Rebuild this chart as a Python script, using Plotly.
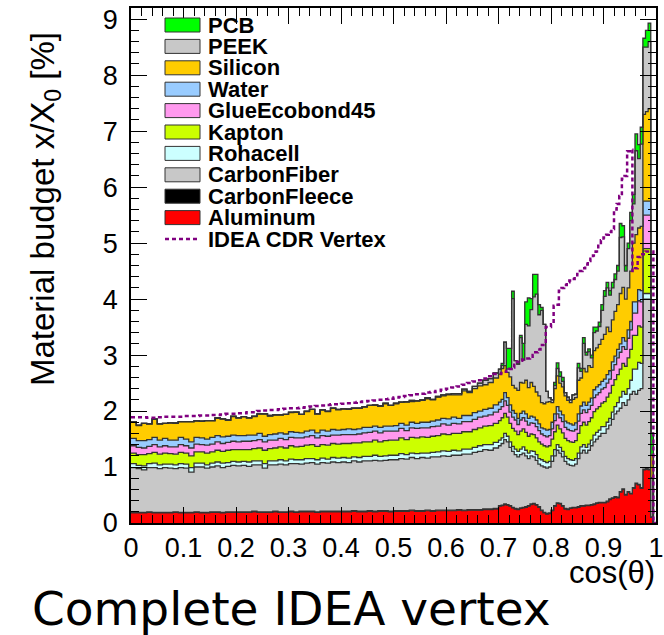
import numpy as np
import plotly.graph_objects as go

# ---------------- data ----------------
# bin edges in cos(theta): 0.01 wide up to 0.70, 0.005 wide above
bin_edges = [round(0.01 * i, 3) for i in range(71)] + [round(0.70 + 0.005 * i, 3) for i in range(1, 61)]

aluminum = [
    0.18,0.18,0.18,0.19,0.18,0.18,0.18,0.18,0.19,0.18,
    0.18,0.18,0.19,0.18,0.18,0.19,0.19,0.18,0.19,0.19,
    0.19,0.19,0.19,0.20,0.19,0.19,0.19,0.20,0.19,0.19,
    0.20,0.19,0.20,0.20,0.20,0.19,0.20,0.20,0.20,0.20,
    0.20,0.20,0.21,0.20,0.20,0.21,0.20,0.21,0.21,0.20,
    0.21,0.21,0.21,0.22,0.21,0.21,0.22,0.21,0.22,0.22,
    0.22,0.22,0.23,0.22,0.23,0.23,0.23,0.24,0.24,0.25,
    0.30,0.31,0.33,0.32,0.30,0.27,0.25,0.24,0.26,0.27,
    0.28,0.30,0.33,0.34,0.32,0.28,0.22,0.18,0.16,0.17,
    0.22,0.30,0.35,0.34,0.30,0.25,0.24,0.26,0.27,0.27,
    0.28,0.30,0.30,0.31,0.31,0.32,0.33,0.35,0.36,0.36,
    0.36,0.38,0.42,0.44,0.46,0.45,0.55,0.60,0.50,0.55,
    0.52,0.62,0.70,0.68,0.62,0.95,0.96,0.95,0.10,0.00]

carbon_fleece = [
    0.01,0.01,0.01,0.01,0.01,0.01,0.01,0.01,0.01,0.01,
    0.01,0.01,0.01,0.01,0.01,0.01,0.01,0.01,0.01,0.01,
    0.01,0.01,0.01,0.01,0.01,0.01,0.01,0.01,0.01,0.01,
    0.01,0.01,0.01,0.01,0.01,0.01,0.01,0.01,0.01,0.01,
    0.01,0.01,0.01,0.01,0.01,0.01,0.01,0.01,0.01,0.01,
    0.01,0.01,0.01,0.01,0.01,0.01,0.01,0.01,0.01,0.01,
    0.01,0.01,0.01,0.01,0.01,0.01,0.01,0.01,0.01,0.01,
    0.01,0.01,0.01,0.01,0.01,0.01,0.01,0.01,0.01,0.01,
    0.01,0.01,0.01,0.01,0.01,0.01,0.01,0.01,0.01,0.01,
    0.01,0.01,0.01,0.01,0.01,0.01,0.01,0.01,0.01,0.01,
    0.01,0.01,0.01,0.01,0.01,0.01,0.01,0.01,0.01,0.01,
    0.01,0.01,0.01,0.01,0.01,0.01,0.01,0.01,0.01,0.01,
    0.01,0.01,0.01,0.01,0.01,0.01,0.01,0.01,0.01,0.00]

carbon_fiber = [
    0.80,0.78,0.76,0.79,0.80,0.78,0.80,0.79,0.77,0.80,
    0.79,0.72,0.80,0.81,0.79,0.80,0.82,0.80,0.81,0.83,
    0.82,0.83,0.81,0.83,0.84,0.78,0.84,0.83,0.85,0.84,
    0.85,0.86,0.84,0.86,0.87,0.85,0.87,0.86,0.88,0.87,
    0.88,0.87,0.89,0.88,0.90,0.89,0.91,0.89,0.90,0.92,
    0.91,0.93,0.92,0.94,0.93,0.95,0.93,0.96,0.95,0.97,
    0.96,0.98,0.97,1.00,0.99,1.02,1.04,1.06,1.05,1.08,
    1.07,1.10,1.15,1.12,1.04,1.00,0.96,0.93,0.95,0.97,
    0.91,0.84,0.86,0.83,0.79,0.76,0.79,0.81,0.81,0.82,
    0.87,0.89,0.94,0.90,0.87,0.84,0.80,0.76,0.74,0.77,
    0.86,0.94,0.99,0.93,0.98,1.05,1.11,1.14,1.18,1.23,
    1.23,1.29,1.32,1.40,1.48,1.54,1.49,1.54,1.59,1.64,
    1.77,1.72,1.59,1.68,1.77,3.04,3.03,3.04,0.70,0.00]

rohacell = [
    0.07,0.06,0.07,0.07,0.08,0.07,0.06,0.07,0.07,0.07,
    0.07,0.08,0.07,0.07,0.06,0.07,0.07,0.08,0.07,0.07,
    0.07,0.07,0.08,0.07,0.07,0.08,0.07,0.07,0.08,0.07,
    0.08,0.07,0.08,0.08,0.07,0.08,0.08,0.07,0.08,0.08,
    0.08,0.08,0.07,0.08,0.08,0.08,0.09,0.08,0.08,0.08,
    0.08,0.09,0.08,0.08,0.09,0.08,0.09,0.08,0.09,0.09,
    0.09,0.09,0.08,0.09,0.09,0.09,0.10,0.09,0.10,0.10,
    0.10,0.10,0.11,0.10,0.10,0.09,0.10,0.10,0.10,0.11,
    0.10,0.10,0.09,0.10,0.10,0.10,0.11,0.10,0.10,0.10,
    0.10,0.11,0.10,0.10,0.10,0.09,0.10,0.10,0.10,0.10,
    0.10,0.11,0.10,0.10,0.11,0.10,0.12,0.12,0.11,0.12,
    0.12,0.12,0.12,0.13,0.13,0.15,0.20,0.20,0.20,0.20,
    0.25,0.40,0.45,0.50,0.45,0.10,0.10,0.10,0.00,0.00]

kapton = [
    0.19,0.19,0.20,0.18,0.19,0.19,0.20,0.19,0.19,0.20,
    0.20,0.21,0.20,0.20,0.21,0.20,0.21,0.21,0.22,0.21,
    0.22,0.21,0.22,0.22,0.23,0.24,0.22,0.23,0.23,0.23,
    0.24,0.23,0.24,0.24,0.25,0.24,0.24,0.25,0.25,0.25,
    0.25,0.26,0.25,0.26,0.26,0.26,0.27,0.26,0.27,0.27,
    0.27,0.28,0.27,0.28,0.28,0.29,0.28,0.29,0.29,0.30,
    0.30,0.30,0.31,0.31,0.31,0.32,0.32,0.33,0.34,0.34,
    0.35,0.36,0.36,0.34,0.33,0.32,0.32,0.30,0.32,0.32,
    0.32,0.30,0.30,0.30,0.30,0.30,0.28,0.28,0.28,0.28,
    0.30,0.32,0.35,0.33,0.33,0.32,0.32,0.32,0.32,0.32,
    0.35,0.38,0.40,0.40,0.40,0.40,0.42,0.42,0.42,0.42,
    0.45,0.45,0.45,0.48,0.48,0.50,0.50,0.50,0.50,0.55,
    0.55,0.60,0.60,0.65,0.65,0.80,0.80,0.80,0.00,0.00]

glue_ecobond45 = [
    0.13,0.13,0.12,0.13,0.14,0.13,0.13,0.12,0.13,0.14,
    0.13,0.14,0.14,0.13,0.14,0.14,0.15,0.14,0.14,0.15,
    0.14,0.15,0.15,0.14,0.15,0.15,0.15,0.14,0.15,0.15,
    0.15,0.16,0.15,0.15,0.16,0.15,0.16,0.16,0.15,0.16,
    0.16,0.16,0.15,0.16,0.16,0.17,0.16,0.16,0.17,0.16,
    0.16,0.17,0.16,0.17,0.17,0.16,0.17,0.17,0.17,0.18,
    0.17,0.18,0.17,0.18,0.18,0.18,0.19,0.18,0.19,0.20,
    0.20,0.20,0.22,0.21,0.20,0.20,0.20,0.18,0.20,0.20,
    0.20,0.20,0.20,0.20,0.20,0.20,0.18,0.18,0.18,0.18,
    0.18,0.20,0.20,0.20,0.20,0.20,0.20,0.20,0.20,0.20,
    0.22,0.22,0.22,0.22,0.22,0.22,0.25,0.25,0.25,0.25,
    0.25,0.25,0.25,0.27,0.27,0.30,0.30,0.30,0.30,0.35,
    0.35,0.40,0.40,0.45,0.45,0.60,0.60,0.60,0.00,0.00]

water = [
    0.13,0.12,0.13,0.12,0.13,0.12,0.13,0.12,0.12,0.13,
    0.12,0.11,0.12,0.12,0.11,0.12,0.11,0.12,0.11,0.11,
    0.11,0.10,0.11,0.10,0.11,0.10,0.10,0.11,0.10,0.10,
    0.10,0.10,0.09,0.10,0.10,0.09,0.10,0.09,0.10,0.09,
    0.09,0.10,0.09,0.09,0.10,0.09,0.09,0.10,0.09,0.09,
    0.10,0.09,0.10,0.10,0.09,0.10,0.10,0.10,0.11,0.10,
    0.11,0.11,0.10,0.11,0.11,0.12,0.11,0.12,0.12,0.13,
    0.13,0.13,0.15,0.14,0.13,0.12,0.12,0.11,0.12,0.12,
    0.13,0.12,0.12,0.11,0.12,0.12,0.11,0.12,0.12,0.11,
    0.12,0.12,0.13,0.12,0.12,0.11,0.12,0.12,0.11,0.12,
    0.13,0.13,0.14,0.13,0.13,0.13,0.14,0.14,0.14,0.14,
    0.15,0.15,0.15,0.15,0.15,0.15,0.15,0.16,0.15,0.15,
    0.15,0.20,0.20,0.20,0.20,0.25,0.25,0.25,0.00,0.00]

silicon = [
    0.30,0.27,0.31,0.28,0.32,0.29,0.27,0.31,0.30,0.28,
    0.31,0.36,0.29,0.30,0.33,0.30,0.31,0.32,0.29,0.33,
    0.32,0.34,0.31,0.33,0.35,0.40,0.33,0.34,0.32,0.35,
    0.34,0.36,0.33,0.35,0.37,0.34,0.36,0.35,0.38,0.36,
    0.37,0.35,0.38,0.37,0.36,0.39,0.37,0.38,0.40,0.37,
    0.39,0.38,0.41,0.37,0.40,0.39,0.42,0.38,0.41,0.40,
    0.43,0.40,0.42,0.44,0.41,0.43,0.45,0.44,0.46,0.48,
    0.50,0.55,0.48,0.45,0.50,0.45,0.45,0.50,0.55,0.50,
    0.60,0.55,0.60,0.55,0.50,0.50,0.45,0.45,0.50,0.50,
    0.35,0.45,0.55,0.50,0.50,0.45,0.40,0.38,0.46,0.45,
    0.60,0.50,0.60,0.60,0.65,0.55,0.70,0.70,0.72,0.75,
    0.80,0.85,0.70,0.75,0.80,0.80,0.90,0.90,0.75,0.75,
    0.90,1.05,1.20,1.10,1.15,1.55,1.60,1.65,0.40,0.00]

peek = [
    0.00,0.01,0.00,0.00,0.01,0.00,0.00,0.00,0.01,0.00,
    0.00,0.00,0.01,0.00,0.00,0.00,0.01,0.00,0.00,0.01,
    0.00,0.00,0.00,0.01,0.00,0.00,0.01,0.00,0.00,0.00,
    0.01,0.00,0.00,0.01,0.00,0.00,0.00,0.01,0.00,0.01,
    0.00,0.01,0.00,0.00,0.01,0.00,0.01,0.00,0.01,0.00,
    0.01,0.00,0.01,0.02,0.00,0.01,0.02,0.01,0.01,0.02,
    0.01,0.02,0.02,0.03,0.02,0.04,0.05,0.08,0.07,0.09,
    0.09,0.05,0.42,0.06,0.15,1.55,0.49,0.47,0.80,0.41,
    1.00,1.10,1.30,1.60,1.75,1.45,1.65,1.42,0.19,0.07,
    0.05,0.06,0.13,0.12,0.10,0.06,0.06,0.05,0.08,0.06,
    0.22,0.12,0.45,0.30,0.25,0.17,0.32,0.30,0.32,0.52,
    0.68,0.70,0.65,0.57,0.57,0.60,1.00,0.90,0.50,0.70,
    0.90,0.70,1.50,1.24,1.47,1.20,1.15,1.20,0.00,0.00]

pcb = [
    0.00,0.00,0.00,0.00,0.00,0.00,0.00,0.00,0.00,0.00,
    0.00,0.00,0.00,0.00,0.00,0.00,0.00,0.00,0.00,0.00,
    0.00,0.00,0.00,0.00,0.00,0.00,0.00,0.00,0.00,0.00,
    0.00,0.00,0.00,0.00,0.00,0.00,0.00,0.00,0.00,0.00,
    0.00,0.00,0.00,0.00,0.00,0.00,0.00,0.00,0.00,0.00,
    0.00,0.00,0.00,0.00,0.00,0.00,0.00,0.00,0.00,0.00,
    0.00,0.00,0.00,0.00,0.00,0.00,0.00,0.00,0.00,0.00,
    0.00,0.04,0.00,0.37,0.36,0.13,0.00,0.00,0.04,0.30,
    0.40,0.50,0.20,0.40,0.35,0.18,0.05,0.00,0.00,0.00,
    0.00,0.05,0.10,0.08,0.07,0.00,0.00,0.00,0.00,0.00,
    0.08,0.05,0.10,0.05,0.05,0.05,0.10,0.07,0.08,0.10,
    0.10,0.10,0.08,0.10,0.10,0.10,0.25,0.20,0.10,0.10,
    0.15,0.17,0.30,0.25,0.30,0.16,0.30,0.33,0.40,0.00]

idea_cdr_vertex = [
    1.89,1.89,1.89,1.88,1.88,1.89,1.90,1.90,1.90,1.90,
    1.91,1.91,1.91,1.92,1.92,1.93,1.93,1.94,1.95,1.95,
    1.96,1.96,1.98,1.98,2.00,2.01,2.02,2.02,2.03,2.04,
    2.05,2.05,2.06,2.07,2.08,2.09,2.10,2.11,2.12,2.12,
    2.13,2.14,2.15,2.16,2.17,2.18,2.19,2.20,2.21,2.22,
    2.24,2.25,2.27,2.28,2.30,2.31,2.33,2.34,2.36,2.38,
    2.40,2.42,2.44,2.47,2.50,2.53,2.55,2.58,2.62,2.66,
    2.66,2.68,2.70,2.72,2.75,2.78,2.85,2.88,2.90,2.92,
    2.94,2.94,2.97,3.00,3.05,3.10,3.18,3.18,3.50,3.50,
    3.55,3.88,3.90,4.15,4.20,4.25,4.30,4.33,4.36,4.40,
    4.45,4.50,4.55,4.62,4.68,4.72,4.78,4.85,4.98,5.05,
    5.10,5.15,5.20,5.25,5.60,5.70,5.84,6.15,6.20,6.64,
    6.67,4.50,4.55,4.75,4.80,4.80,4.85,4.85,4.85,0.00]

# stacking order (bottom -> top) and colours
stack_names = ["Aluminum", "CarbonFleece", "CarbonFiber", "Rohacell", "Kapton",
               "GlueEcobond45", "Water", "Silicon", "PEEK", "PCB"]
stack_values = [aluminum, carbon_fleece, carbon_fiber, rohacell, kapton,
                glue_ecobond45, water, silicon, peek, pcb]
stack_colors = ["#ff0000", "#000000", "#c8c8c8", "#ccffff", "#ccff00",
                "#ff99ee", "#99ccff", "#ffcc00", "#c8c8c8", "#00ff00"]
cdr_color = "#800080"
outline = "#333333"

# ---------------- figure ----------------
W, H = 664, 635
L, R, T, B = 131, 8, 8, 112
fig = go.Figure()

cum = np.zeros(len(aluminum))
for i, (name, vals, col) in enumerate(zip(stack_names, stack_values, stack_colors)):
    cum = cum + np.array(vals)
    yy = list(cum) + [cum[-1]]
    fig.add_trace(go.Scatter(
        x=bin_edges, y=yy, mode="lines", name=name,
        line=dict(shape="hv", color=outline, width=1.3),
        fill="tozeroy" if i == 0 else "tonexty", fillcolor=col,
        showlegend=False, hoverinfo="skip"))

fig.add_trace(go.Scatter(
    x=bin_edges, y=list(idea_cdr_vertex) + [idea_cdr_vertex[-1]], mode="lines",
    name="IDEA CDR Vertex",
    line=dict(shape="hv", color=cdr_color, width=2.5, dash="4px,3px"),
    showlegend=False, hoverinfo="skip"))

PW, PH = W - L - R, H - T - B
def px(x):
    return (x - L) / PW
def py(y):
    return (H - B - y) / PH

tickfont = dict(family="Liberation Sans, Arial, sans-serif", size=27, color="black")
fig.update_xaxes(range=[0, 1], showgrid=False, zeroline=False,
                 showline=True, linecolor="black", linewidth=1.5, mirror="allticks",
                 ticks="inside", ticklen=16, tickwidth=1.2, tickcolor="black",
                 tick0=0, dtick=0.1, tickfont=tickfont,
                 minor=dict(ticks="inside", dtick=0.02, ticklen=8, tickwidth=1, tickcolor="black"))
fig.update_yaxes(range=[0, 9.2], showgrid=False, zeroline=False,
                 showline=True, linecolor="black", linewidth=1.5, mirror="allticks",
                 ticks="inside", ticklen=16, tickwidth=1.2, tickcolor="black",
                 tick0=0, dtick=1, tickfont=tickfont, ticklabelstandoff=6,
                 minor=dict(ticks="inside", dtick=0.2, ticklen=8, tickwidth=1, tickcolor="black"))

# legend (drawn manually, ROOT style)
legend_rows = ["PCB", "PEEK", "Silicon", "Water", "GlueEcobond45", "Kapton",
               "Rohacell", "CarbonFiber", "CarbonFleece", "Aluminum"]
shapes, annotations = [], []
legfont = dict(family="Liberation Sans, Arial, sans-serif", size=22, color="black")
for j, nm in enumerate(legend_rows):
    cy = 25 + 21.4 * j
    col = stack_colors[stack_names.index(nm)]
    shapes.append(dict(type="rect", xref="paper", yref="paper",
                       x0=px(165), x1=px(200), y0=py(cy + 7), y1=py(cy - 7),
                       fillcolor=col, line=dict(color=outline, width=1)))
    annotations.append(dict(text="<b>%s</b>" % nm, xref="paper", yref="paper",
                            x=px(206), y=py(cy), xanchor="left", yanchor="middle",
                            showarrow=False, font=legfont))
cy = 25 + 21.4 * 10
shapes.append(dict(type="line", xref="paper", yref="paper",
                   x0=px(165), x1=px(198), y0=py(cy), y1=py(cy),
                   line=dict(color=cdr_color, width=2.5, dash="4px,3px")))
annotations.append(dict(text="<b>IDEA CDR Vertex</b>", xref="paper", yref="paper",
                        x=px(206), y=py(cy), xanchor="left", yanchor="middle", showarrow=False,
                        font=legfont))

# axis titles and caption
annotations.append(dict(text="Material budget x/X<sub>0</sub> [%]", xref="paper", yref="paper",
                        x=px(45), y=py(30), xanchor="center", yanchor="top", textangle=-90,
                        showarrow=False,
                        font=dict(family="Liberation Sans, Arial, sans-serif", size=33, color="black")))
annotations.append(dict(text="cos(θ)", xref="paper", yref="paper",
                        x=px(657), y=py(572), xanchor="right", yanchor="middle", showarrow=False,
                        font=dict(family="Liberation Sans, Arial, sans-serif", size=31, color="black")))
annotations.append(dict(text="Complete IDEA vertex", xref="paper", yref="paper",
                        x=px(30), y=py(608), xanchor="left", yanchor="middle", showarrow=False,
                        font=dict(family="DejaVu Sans, sans-serif", size=47, color="black")))

fig.update_layout(width=W, height=H, margin=dict(l=L, r=R, t=T, b=B, autoexpand=False),
                  paper_bgcolor="white", plot_bgcolor="white",
                  shapes=shapes, annotations=annotations, showlegend=False)

fig.write_html("out.html")
